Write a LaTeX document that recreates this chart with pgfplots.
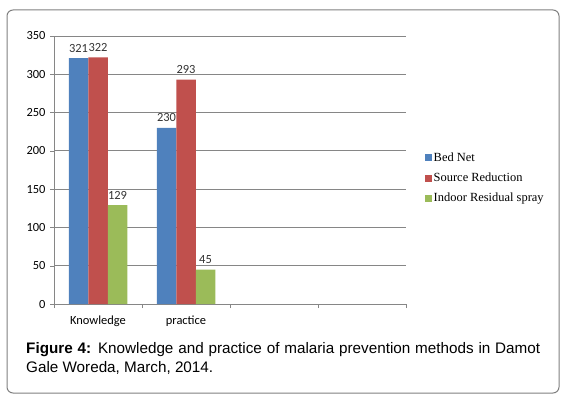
\documentclass[border=0pt]{standalone}
\usepackage{pgfplots}
\pgfplotsset{compat=1.18}
\usepackage{fontspec}
\setmainfont{Liberation Sans}
\newfontfamily\carlito{Carlito}
\newfontfamily\serifleg{Liberation Serif}
\definecolor{cblue}{HTML}{4F81BD}
\definecolor{cred}{HTML}{C0504D}
\definecolor{cgreen}{HTML}{9BBB59}
\definecolor{cgrid}{HTML}{868686}
\definecolor{cframe}{HTML}{808080}
\begin{document}
\begin{tikzpicture}[x=1bp,y=1bp]
\useasboundingbox (0,0) rectangle (567,398);
\draw[cframe, line width=1bp, rounded corners=6bp] (7,5) rectangle (559,388);
\begin{axis}[
  at={(54bp,94bp)}, anchor=south west,
  scale only axis, width=352bp, height=268bp,
  ybar=0pt, bar width=19.5bp,
  xmin=-0.5, xmax=3.5, ymin=0, ymax=350,
  ytick={0,50,...,350},
  xtick={-0.5,0.5,1.5,2.5,3.5}, xticklabels={},
  extra x ticks={0,1}, extra x tick labels={Knowledge,practice},
  extra x tick style={major tick length=0pt, tick label style={yshift=-8bp}},
  axis x line*=bottom, axis y line*=left,
  axis line style={cgrid},
  ymajorgrids, grid style={cgrid, line width=0.8bp},
  tick align=outside,
  major tick length=4bp,
  tick style={cgrid},
  tick label style={font=\carlito\fontsize{12.5}{14}\selectfont},
  yticklabel style={xshift=-1bp},
  /pgf/number format/assume math mode=true,
  nodes near coords,
  every node near coord/.append style={font=\carlito\fontsize{12.5}{14}\selectfont, color=black!80, yshift=2.5bp},
  every axis plot/.append style={legend image code/.code={\fill[#1] (0bp,-3.5bp) rectangle (7bp,3.5bp);}},
  legend style={at={(1.054,0.47)}, anchor=west, draw=none, fill=none, font=\serifleg\fontsize{12.5}{14}\selectfont, row sep=7bp, inner sep=0pt, legend cell align=left, nodes={inner sep=1.5bp}},
]
\addplot[fill=cblue, draw=none] coordinates {(0,321) (1,230)};
\addplot[fill=cred, draw=none] coordinates {(0,322) (1,293)};
\addplot[fill=cgreen, draw=none] coordinates {(0,129) (1,45)};
\legend{Bed Net, Source Reduction, Indoor Residual spray}
\end{axis}
\node[anchor=base west, inner sep=0, font=\fontsize{15.3}{19}\selectfont] at (26,45) {\makebox[514bp][s]{\textbf{Figure 4:} Knowledge and practice of malaria prevention methods in Damot}};
\node[anchor=base west, inner sep=0, font=\fontsize{15.3}{19}\selectfont] at (26,26) {Gale Woreda, March, 2014.};
\end{tikzpicture}
\end{document}
